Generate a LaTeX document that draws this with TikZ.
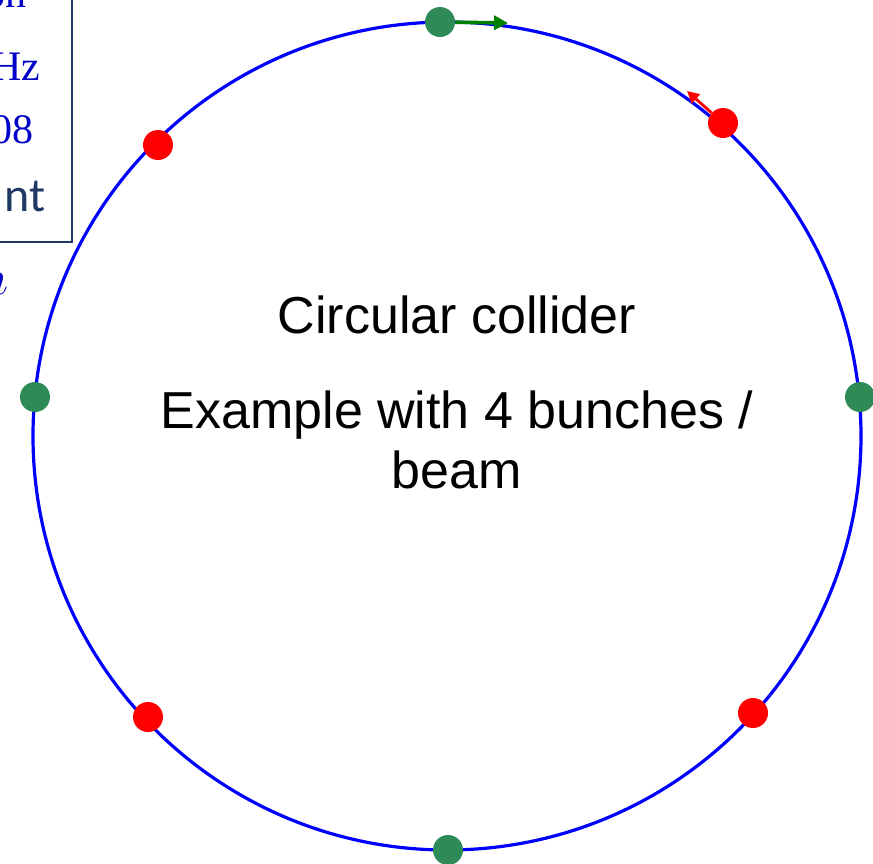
\documentclass[tikz,border=0pt]{standalone}
\usepackage{fontspec}
\setmainfont{Liberation Serif}
\setsansfont{Liberation Sans}
\newfontfamily\calfont{Carlito}
\usetikzlibrary{arrows.meta}
\definecolor{ringblue}{RGB}{0,0,255}
\definecolor{seagreen}{RGB}{46,139,87}
\definecolor{arrowgreen}{RGB}{0,128,0}
\definecolor{bunchred}{RGB}{255,0,0}
\definecolor{slidenavy}{RGB}{31,56,100}
\definecolor{slideblue}{RGB}{0,0,200}
\tikzset{
  ring/.style={draw=ringblue,line width=1.6pt},
  bunch/.style={circle,fill=#1,inner sep=0pt,minimum size=15pt},
  bunch/.default=seagreen,
  motion/.style={-{Triangle[length=7pt,width=7pt]},line width=#1},
  motion/.default=1.8pt,
  caption/.style={font=\sffamily\fontsize{26}{31}\selectfont,anchor=base},
  fragment/.style={font=\fontsize{21}{25}\selectfont,text=slideblue,anchor=base east,inner sep=0pt},
}

\begin{document}
\begin{tikzpicture}[x=0.5pt,y=-0.5pt]
  \useasboundingbox (0,0) rectangle (873,863);
  % cut-off box of the slide
  \draw[slidenavy,line width=1pt] (-20,-20) rectangle (72,242);
  \node[fragment] (f0) at (27,7) {on};
  \node[fragment] (f1) at (41,80) {Hz};
  \node[fragment] (f2) at (34,143) {08};
  \node[fragment,font=\calfont\fontsize{24}{28}\selectfont,text=slidenavy] (f3) at (46,211) {nt};
  \node[fragment,font=\fontsize{26}{30}\selectfont] (f4) at (9,294) {$n$};
  % the ring
  \draw[ring] (447,436) circle [radius=414];
  \node[caption] (title) at (457,333) {Circular collider};
  \node[caption] (ex1) at (457,428) {Example with 4 bunches /};
  \node[caption] (ex2) at (457,488) {beam};
  % bunches
  \foreach \n/\x/\y in {gT/440/22,gR/860/397,gB/448/850,gL/35/397}
    \node[bunch] (\n) at (\x,\y) {};
  \foreach \n/\x/\y in {rTR/723/123,rTL/158/145,rBL/148/717,rBR/753/713}
    \node[bunch=bunchred] (\n) at (\x,\y) {};
  % directions of motion
  \coordinate (gTtip) at (508,23);
  \coordinate (rTRtip) at (687,91);
  \draw[motion,arrowgreen] (gT) -- (gTtip);
  \draw[motion=1.4pt,bunchred,-{Triangle[length=6pt,width=6pt]}] (rTR) -- (rTRtip);
\end{tikzpicture}
\end{document}
